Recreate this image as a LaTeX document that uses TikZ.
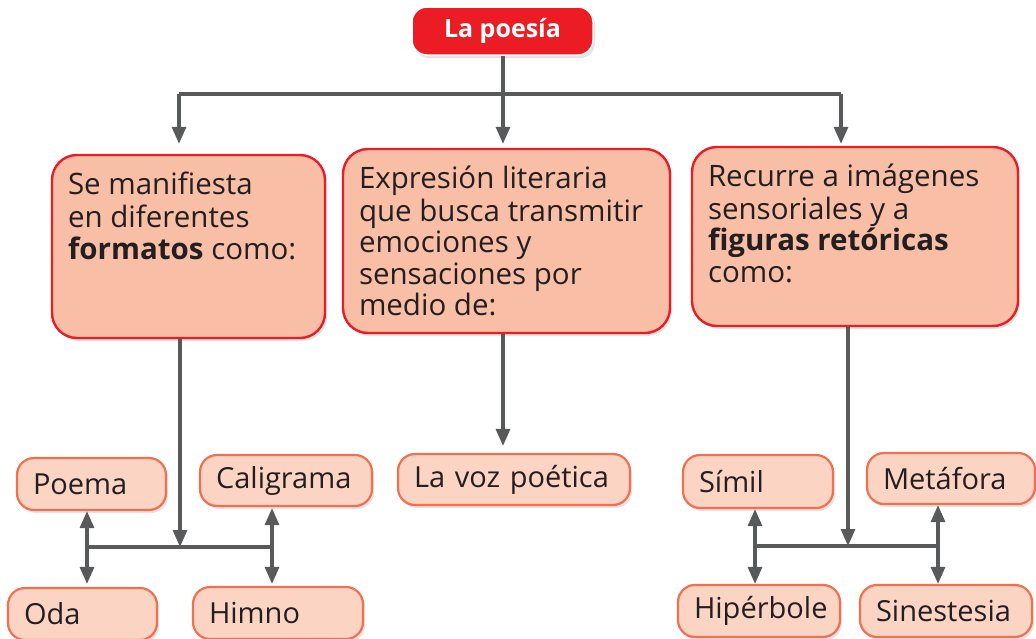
\documentclass[tikz,border=0pt]{standalone}
\usepackage{fontspec}
\setmainfont{Open Sans}
\usetikzlibrary{arrows.meta,shadows}
\definecolor{pred}{HTML}{EC1C24}
\definecolor{bigfill}{HTML}{F9BEA6}
\definecolor{sfill}{HTML}{FCD4C3}
\definecolor{sborder}{HTML}{F1704F}
\definecolor{lgray}{HTML}{58595B}
\definecolor{ink}{HTML}{231F20}
\newcommand{\boxtext}[3]{\begin{minipage}[c][#2][t]{#1}\raggedright\fontsize{29.5}{31.5}\selectfont\strut #3\end{minipage}}
\begin{document}
\begin{tikzpicture}[x=1pt,y=-1pt,
  shd/.style={drop shadow={shadow xshift=2pt,shadow yshift=-3pt,opacity=0.18,fill=black!60}},
  titlebox/.style={draw=white,line width=1.5pt,fill=pred,rounded corners=15pt,text=white,font=\fontsize{25}{28}\selectfont\bfseries,shd},
  bigbox/.style={draw=pred,line width=2.4pt,fill=bigfill,rounded corners=25pt,inner xsep=16pt,inner ysep=17pt,text=ink,shd},
  smallbox/.style={draw=sborder,line width=2.2pt,fill=sfill,rounded corners=17pt,inner xsep=16pt,inner ysep=0pt,text=ink,align=left,font=\fontsize{29}{30}\selectfont,shd},
  line/.style={draw=lgray,line width=3.2pt},
  arr/.style={line,-{Triangle[width=14pt,length=17pt]}},
]
\useasboundingbox (0,0) rectangle (1036,638);

% title
\node[titlebox,minimum width=181pt,minimum height=48pt] (poesia) at (502.5,31) {La poesía};

% big boxes
\node[bigbox,minimum width=273pt,minimum height=183pt] (b1) at (188.5,246.5)
  {\boxtext{241pt}{149pt}{Se manifiesta\\en diferentes\\\textbf{formatos} como:}};
\node[bigbox,minimum width=327pt,minimum height=184pt] (b2) at (506.5,241)
  {\boxtext{295pt}{150pt}{Expresión literaria\\que busca transmitir\\emociones y\\sensaciones por\\medio de:}};
\node[bigbox,minimum width=326pt,minimum height=179pt] (b3) at (855,236.5)
  {\boxtext{294pt}{145pt}{Recurre a imágenes\\sensoriales y a\\\textbf{figuras retóricas}\\como:}};

% small boxes
\node[smallbox,minimum height=52pt,text width=117pt] (poema) at (91.5,484) {Poema};
\node[smallbox,minimum height=51pt,text width=140pt] (cali) at (286,480.5) {Caligrama};
\node[smallbox,minimum height=52pt,text width=117pt] (oda) at (82.5,614) {Oda};
\node[smallbox,minimum height=52pt,text width=138pt] (himno) at (278,613) {Himno};
\node[smallbox,minimum height=51pt,text width=200pt] (voz) at (514,479.5) {La voz poética};
\node[smallbox,minimum height=53pt,text width=118pt] (simil) at (758,481.5) {Símil};
\node[smallbox,minimum height=51pt,text width=136pt] (meta) at (951,478.5) {Metáfora};
\node[smallbox,minimum height=52pt,text width=130pt] (hiper) at (759,611) {Hipérbole};
\node[smallbox,minimum height=52pt,text width=140pt] (sine) at (946,611) {Sinestesia};

% top connectors
\coordinate (tc) at (503,94);
\coordinate (tl) at (179,94);
\coordinate (tr) at (841,94);
\draw[line] (poesia.south -| tc) -- (tc);
\draw[line] (tl) -- (tr);
\draw[arr,shorten >=10pt] (tl) -- (b1.north -| tl);
\draw[arr,shorten >=4pt] (tc) -- (b2.north -| tc);
\draw[arr,shorten >=2pt] (tr) -- (b3.north -| tr);

% middle
\draw[arr,shorten >=7pt] (b2.south -| tc) -- (voz.north -| tc);

% left cluster
\coordinate (lc) at (180,547);
\coordinate (ll) at (87,547);
\coordinate (lr) at (272,547);
\draw[arr] (b1.south -| lc) -- (lc);
\draw[line] (ll) -- (lr);
\draw[arr] (ll) -- (poema.south -| ll);
\draw[arr,shorten >=3pt] (ll) -- (oda.north -| ll);
\draw[arr,shorten >=1pt] (lr) -- (cali.south -| lr);
\draw[arr,shorten >=2pt] (lr) -- (himno.north -| lr);

% right cluster
\coordinate (rc) at (848,546);
\coordinate (rl) at (755,546);
\coordinate (rr) at (938,546);
\draw[arr] (b3.south -| rc) -- (rc);
\draw[line] (rl) -- (rr);
\draw[arr] (rl) -- (simil.south -| rl);
\draw[arr] (rl) -- (hiper.north -| rl);
\draw[arr] (rr) -- (meta.south -| rr);
\draw[arr] (rr) -- (sine.north -| rr);
\end{tikzpicture}
\end{document}
